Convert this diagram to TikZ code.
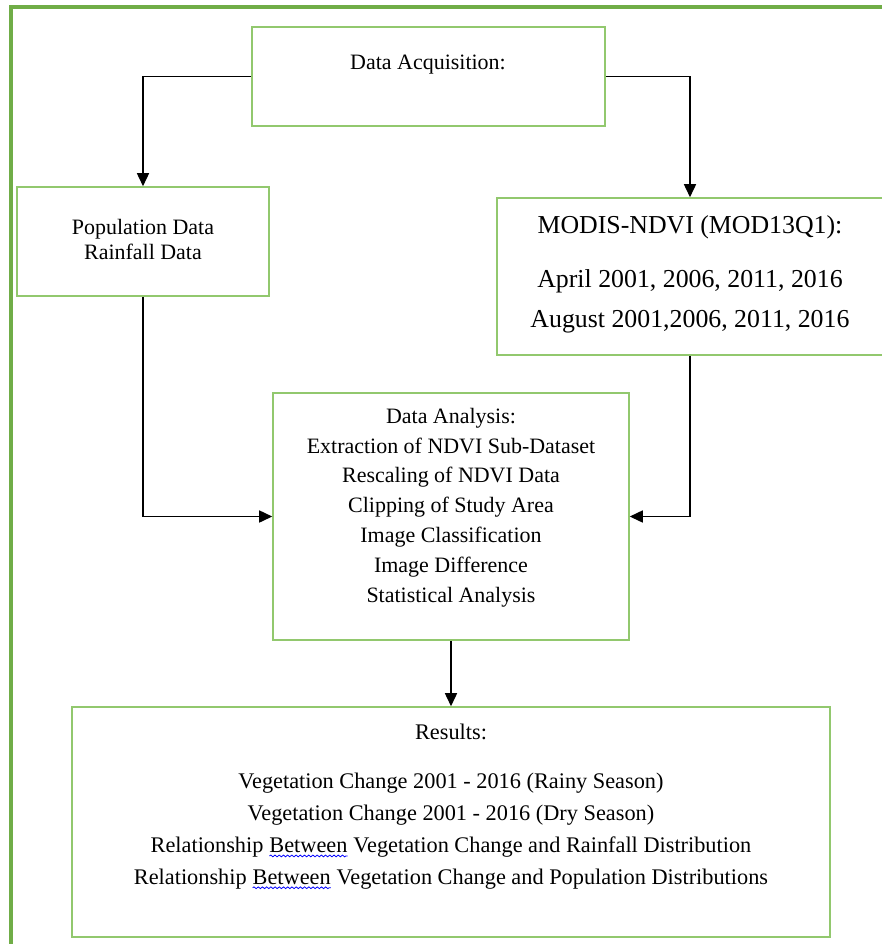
\documentclass[tikz,border=0pt]{standalone}
\usepackage{fontspec}
\setmainfont{Liberation Serif}
\usepackage{xcolor}
\usetikzlibrary{arrows.meta,decorations.pathmorphing}

\definecolor{framegreen}{RGB}{112,173,71}
\definecolor{boxgreen}{RGB}{146,200,110}

% blue spell-check squiggle under a word
\newcommand{\wavy}[1]{\tikz[baseline=(w.base),x=1cm,y=1cm]{\node[inner sep=0pt,outer sep=0pt] (w) {#1};
  \draw[blue,line width=0.45pt,decorate,decoration={snake,amplitude=0.5pt,segment length=2.4pt}]
    ([yshift=-2pt]w.base west) -- ([yshift=-2pt]w.base east);}}

\tikzset{
  box/.style={draw=boxgreen, line width=0.9pt, rectangle, inner sep=0pt},
  txt/.style={align=center, inner sep=0pt, font=\fontsize{12.5}{17}\selectfont},
  link/.style={-{Triangle[length=0.26cm,width=0.24cm]}, line width=0.85pt},
}

\begin{document}
\begin{tikzpicture}[x=0.02cm, y=-0.02cm]
    \useasboundingbox (0,0) rectangle (882,944);
    \clip (0,0) rectangle (882,944);

    % Outer frame
    \draw[framegreen, line width=1.8pt] (11,7) rectangle (910,980);

    % Box for data acquisition
    \node[box, minimum width=7.06cm, minimum height=1.98cm] (acq) at (428.5,76.5) {};
    \node[txt] (acqtext) at (428,65) {Data Acquisition:};

    % Box for population and rainfall
    \node[box, minimum width=5.04cm, minimum height=2.18cm] (pop) at (143,241.5) {};
    \node[txt, font=\fontsize{12.5}{14.2}\selectfont] (poptext) at (143,239.5) {Population Data\\Rainfall Data};

    % Box for MODIS data
    \node[box, minimum width=7.72cm, minimum height=3.14cm] (modis) at (690,276.5) {};
    \node[txt, font=\fontsize{14.7}{22.7}\selectfont] (modistext) at (690,274)
        {MODIS-NDVI (MOD13Q1):\\[8pt]April 2001, 2006, 2011, 2016\\August 2001,2006, 2011, 2016};

    % Box for analysis
    \node[box, minimum width=7.12cm, minimum height=4.94cm] (ana) at (451,516.5) {};
    \node[txt] (anatext) at (451,507.5)
        {Data Analysis:\\Extraction of NDVI Sub-Dataset\\Rescaling of NDVI Data\\Clipping of Study Area\\
         Image Classification\\Image Difference\\Statistical Analysis};

    % Box for results
    \node[box, minimum width=15.16cm, minimum height=4.6cm] (res) at (451,822) {};
    \node[txt, font=\fontsize{12.7}{18.1}\selectfont] (restext) at (451,806.5)
        {Results:\\[10pt]Vegetation Change 2001 - 2016 (Rainy Season)\\Vegetation Change 2001 - 2016 (Dry Season)\\
         Relationship \wavy{Between} Vegetation Change and Rainfall Distribution\\
         Relationship \wavy{Between} Vegetation Change and Population Distributions};

    % Arrows
    \coordinate (rightcol) at (690,0);
    \draw[link] (acq.west) -| (pop.north);
    \draw[link] (acq.east) -| (modis.north -| rightcol);
    \draw[link] (pop.south) |- (ana.west);
    \draw[link] (modis.south -| rightcol) |- (ana.east);
    \draw[link] (ana.south) -- (res.north);
\end{tikzpicture}
\end{document}
